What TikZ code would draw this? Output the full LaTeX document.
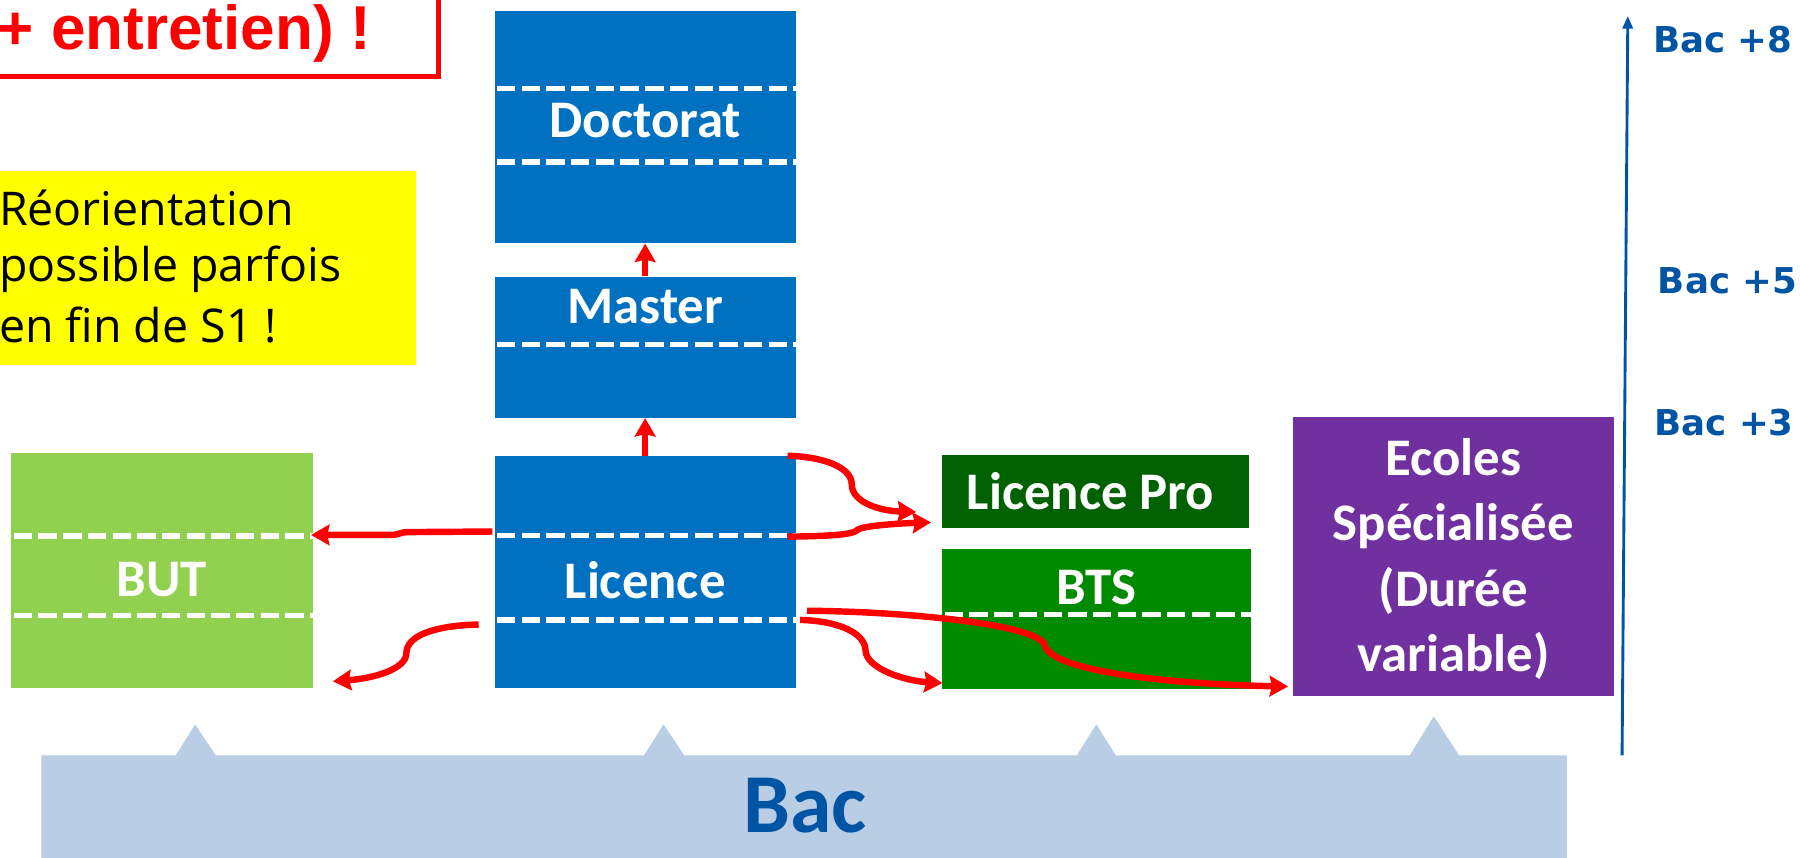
\documentclass[tikz,border=0pt]{standalone}
\usepackage{fontspec}
\setmainfont{Carlito}
\newfontfamily\arialf{Liberation Sans}
\newfontfamily\dejavuf{DejaVu Sans}
\newfontfamily\comicf{Open Sans}
\usetikzlibrary{arrows.meta}
\definecolor{boxblue}{RGB}{0,112,192}
\definecolor{butgreen}{RGB}{146,208,80}
\definecolor{lpgreen}{RGB}{0,97,0}
\definecolor{btsgreen}{RGB}{0,138,0}
\definecolor{ecopurple}{RGB}{112,48,160}
\definecolor{bacbar}{RGB}{185,205,229}
\definecolor{axisblue}{RGB}{0,84,164}
\definecolor{noteyellow}{RGB}{255,255,0}
\begin{document}
\begin{tikzpicture}[x=1pt,y=-1pt,
  box/.style={rectangle, inner sep=0pt, draw=none},
  lbl/.style={text=white, font=\fontsize{46}{57}\selectfont\bfseries, inner sep=0pt, align=center},
  dsh/.style={white, line width=4.6pt, dash pattern=on 16pt off 5.5pt},
  rarr/.style={red, line width=5.6pt, -{Stealth[length=16pt,width=18pt,inset=2pt]}},
  lvl/.style={text=axisblue, font=\dejavuf\bfseries\fontsize{31}{37}\selectfont, anchor=base west, inner sep=0pt}]
\useasboundingbox (0,0) rectangle (1568,747);
\clip (0,0) rectangle (1568,747);

% red note box (cut off)
\draw[red, line width=4.5pt] (-30,-30) rectangle (382,67);
\node[anchor=base west, inner sep=0pt, text=red, font=\arialf\bfseries\fontsize{54}{64}\selectfont] (rnote) at (-2,43) {+ entretien) !};

% yellow note
\fill[noteyellow] (-10,149) rectangle (362,318);
\node[anchor=base west, inner sep=0pt, font=\comicf\fontsize{40.5}{51}\selectfont] (y1) at (-1,196) {Réorientation};
\node[anchor=base west, inner sep=0pt, font=\comicf\fontsize{40.5}{51}\selectfont] (y2) at (-1,245) {possible parfois};
\node[anchor=base west, inner sep=0pt, font=\comicf\fontsize{40.5}{51}\selectfont] (y3) at (-1,298.5) {en fin de S1 !};

% boxes
\node[box, fill=boxblue, minimum width=262pt, minimum height=202pt] (doc) at (562,111) {};
\node[box, fill=boxblue, minimum width=262pt, minimum height=123pt] (mas) at (562,302.5) {};
\node[box, fill=boxblue, minimum width=262pt, minimum height=202pt] (lic) at (562,498) {};
\node[box, fill=butgreen, minimum width=263pt, minimum height=204pt] (but) at (141.5,497) {};
\node[box, fill=lpgreen, minimum width=267pt, minimum height=64pt] (lp) at (954.5,428) {};
\node[box, fill=btsgreen, minimum width=269pt, minimum height=122pt] (bts) at (955.5,539) {};
\node[box, fill=ecopurple, minimum width=280pt, minimum height=243pt] (eco) at (1266,484.5) {};

% dashed lines
\draw[dsh] (433,77) -- (693,77);
\draw[dsh] (433,141) -- (693,141);
\draw[dsh] (433,300) -- (693,300);
\draw[dsh] (433,466.5) -- (693,466.5);
\draw[dsh] (433,540) -- (693,540);
\draw[dsh] (12,467) -- (273,467);
\draw[dsh] (12,536) -- (273,536);
\draw[dsh] (823,535.5) -- (1090,535.5);

% labels
\node[lbl] (tdoc) at (562,105) {Doctorat};
\node[lbl] (tmas) at (562,267) {Master};
\node[lbl] (tlic) at (562,505) {Licence};
\node[lbl] (tbut) at (141,505) {BUT};
\node[lbl] (tlp) at (950,428) {Licence Pro};
\node[lbl] (tbts) at (955,512) {BTS};
\node[lbl] (teco) at (1266,487) {Ecoles\\Spécialisée\\(Durée\\variable)};

% Bac bar
\fill[bacbar] (36,748) -- (36,658) -- (153,658) -- (170,631) -- (188,658)
  -- (561,658) -- (578,631) -- (596,658)
  -- (938,658) -- (955,631) -- (972,658)
  -- (1228,658) -- (1249,624) -- (1271,658)
  -- (1365,658) -- (1365,748) -- cycle;
\node[anchor=base, inner sep=0pt, text=axisblue, font=\fontsize{73}{80}\selectfont\bfseries] (bac) at (701,725) {Bac};

% axis
\coordinate (axb) at (1413,658);
\coordinate (axt) at (1418,14);
\draw[axisblue, line width=2.5pt, -{Triangle[length=11pt,width=9pt]}] (axb) -- (axt);
\node[lvl] (b8) at (1440,46) {Bac +8};
\node[lvl] (b5) at (1444,256) {Bac +5};
\node[lvl] (b3) at (1441,379) {Bac +3};

% red arrows
\draw[rarr] (lic.north) -- (mas.south);
\draw[rarr] (mas.north) -- (doc.south);
\coordinate (a1s) at (429,463);
\coordinate (a1e) at (271,466);
\draw[rarr] (a1s) -- (356,463.5) .. controls (348,463.5) and (348,466) .. (340,466) -- (a1e);
\coordinate (a2s) at (417,544);
\coordinate (a2e) at (290,593.5);
\draw[rarr] (a2s) .. controls (375,545) and (354,555) .. (354,569) .. controls (354,583) and (325,591) .. (a2e);
\coordinate (a3s) at (686,397);
\coordinate (a3e) at (798,446);
\draw[rarr] (a3s) .. controls (720,398) and (742,408) .. (742,422) .. controls (742,437) and (765,445) .. (a3e);
\coordinate (a4s) at (686,467.5);
\coordinate (a4e) at (811,455);
\draw[rarr] (a4s) .. controls (720,467) and (744,466) .. (747,461.5) .. controls (752,458) and (782,456) .. (a4e);
\coordinate (a5s) at (697,540);
\coordinate (a5e) at (821,595);
\draw[rarr] (a5s) .. controls (732,541) and (754,552) .. (754,567) .. controls (755,582) and (787,593) .. (a5e);
\coordinate (a6s) at (703,532);
\coordinate (a6e) at (1122,598);
\draw[rarr] (a6s) .. controls (800,533) and (905,545) .. (910,562) .. controls (916,585) and (1020,596) .. (a6e);
\end{tikzpicture}
\end{document}
